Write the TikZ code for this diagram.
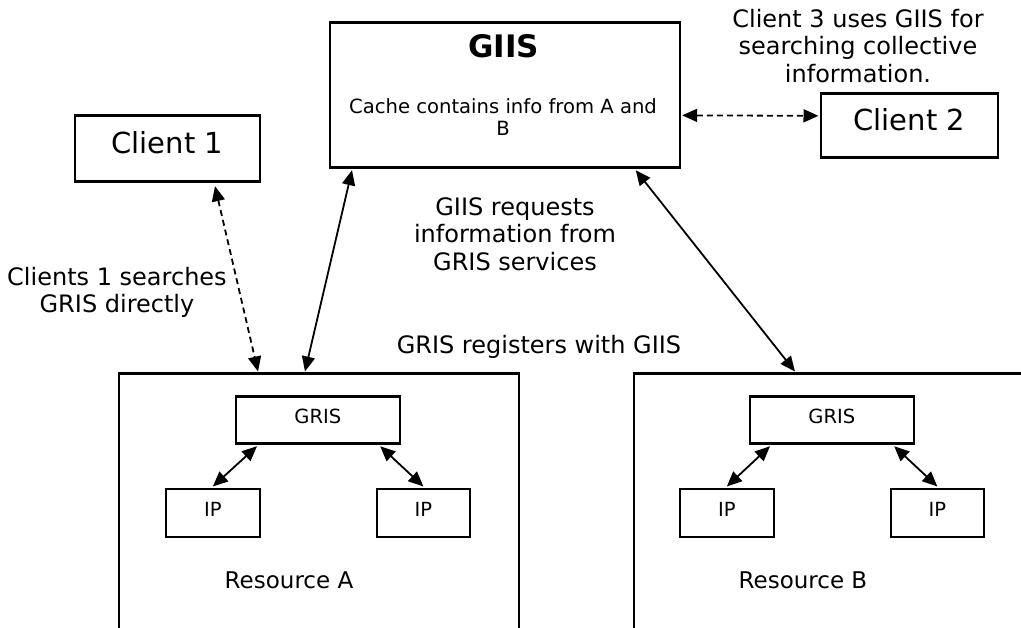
\documentclass[tikz,border=0pt]{standalone}
\usepackage{fontspec}
\setmainfont{DejaVu Sans}
\usetikzlibrary{arrows.meta,calc}

\tikzset{
  box/.style={draw, rectangle, line width=2.7pt, inner sep=0pt, anchor=north west},
  smallbox/.style={box, font=\fontsize{19.5}{22}\selectfont, text height=14pt, text depth=7pt},
  clientbox/.style={box, font=\fontsize{29}{33}\selectfont, text height=21pt, text depth=11pt},
  note/.style={inner sep=0pt, align=center, font=\fontsize{24}{27.5}\selectfont},
  tip/.style={Triangle[length=15pt,width=13pt]},
  link/.style={line width=1.8pt, {Triangle[length=15pt,width=13pt]}-{Triangle[length=15pt,width=13pt]}},
  dashlink/.style={link, dash pattern=on 6pt off 4pt},
}

\begin{document}
\begin{tikzpicture}[x=1pt, y=-1pt]
\useasboundingbox (0,0) rectangle (1021,628);

% main boxes
\node[box, minimum width=350pt, minimum height=145pt] (giis) at (328.5,21.5) {};
\node[clientbox, minimum width=185pt, minimum height=66pt] (client1) at (73.5,114.5) {Client 1};
\node[clientbox, minimum width=177pt, minimum height=64pt] (client2) at (819.5,92.5) {Client 2};
\node[box, minimum width=400pt, minimum height=300pt] (resA) at (117.5,372.5) {};
\node[box, minimum width=430pt, minimum height=300pt] (resB) at (632.5,372.5) {};

% GIIS contents
\node[inner sep=0pt, anchor=base, font=\fontsize{31}{35}\selectfont\bfseries] (giisTitle) at (503.5,58) {GIIS};
\node[note, font=\fontsize{19.6}{22}\selectfont] (giisCache) at (503,117) {Cache contains info from A and\\B};

% resource A
\node[smallbox, minimum width=164pt, minimum height=47pt] (grisA) at (234.5,395.5) {GRIS};
\node[smallbox, minimum width=94pt, minimum height=48pt] (ipAl) at (164.5,487.5) {IP};
\node[smallbox, minimum width=93pt, minimum height=48pt] (ipAr) at (375.5,487.5) {IP};
\node[inner sep=0pt, anchor=base, font=\fontsize{23}{27}\selectfont] (resAlabel) at (289,588) {Resource A};

% resource B
\node[smallbox, minimum width=164pt, minimum height=47pt] (grisB) at (748.5,395.5) {GRIS};
\node[smallbox, minimum width=94pt, minimum height=48pt] (ipBl) at (678.5,487.5) {IP};
\node[smallbox, minimum width=93pt, minimum height=48pt] (ipBr) at (889.5,487.5) {IP};
\node[inner sep=0pt, anchor=base, font=\fontsize{23}{27}\selectfont] (resBlabel) at (803,588) {Resource B};

% free-standing notes
\node[note] (client3note) at (858,46) {Client 3 uses GIIS for\\searching collective\\information.};
\node[note] (giisReq) at (515,234) {GIIS requests\\information from\\GRIS services};
\node[note, anchor=base] (grisReg) at (539,354) {GRIS registers with GIIS};
\node[note] (client1note) at (117,292.5) {Clients 1 searches\\GRIS directly};

% connectors
\draw[dashlink] ([xshift=141.5pt, yshift=-3pt]client1.south west) -- ([xshift=140.5pt, yshift=1pt]resA.north west);
\draw[link] ([xshift=23.5pt, yshift=-1pt]giis.south west) -- ([xshift=187.5pt, yshift=1pt]resA.north west);
\draw[link] ([xshift=-45.5pt, yshift=-1pt]giis.south east) -- ([xshift=162.5pt, yshift=1pt]resB.north west);
\draw[dashlink] ([xshift=1pt, yshift=-20pt]giis.east) -- ([xshift=-1pt, yshift=10pt]client2.west);

\draw[link] ([xshift=22.5pt, yshift=-1pt]grisA.south west) -- ([yshift=1pt]ipAl.north);
\draw[link] ([xshift=-21pt, yshift=-1pt]grisA.south east) -- ([yshift=1pt]ipAr.north);
\draw[link] ([xshift=21.5pt, yshift=-1pt]grisB.south west) -- ([yshift=1pt]ipBl.north);
\draw[link] ([xshift=-21pt, yshift=-1pt]grisB.south east) -- ([yshift=1pt]ipBr.north);
\end{tikzpicture}
\end{document}
